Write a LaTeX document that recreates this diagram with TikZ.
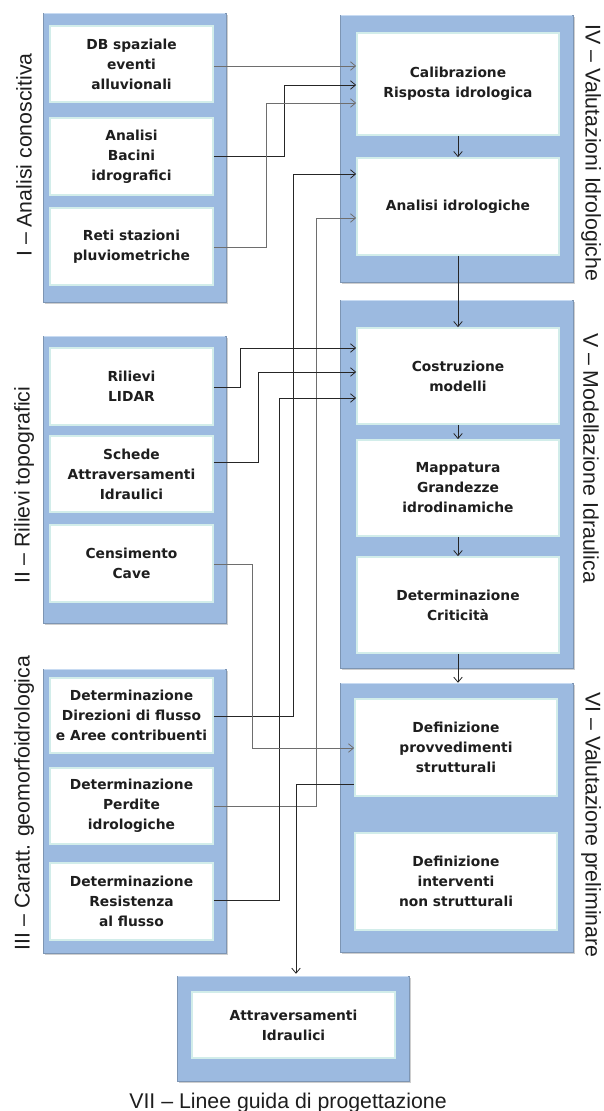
\documentclass[tikz,border=0pt]{standalone}
\usepackage{fontspec}
\setmainfont{Liberation Sans}
\newfontfamily\boxfont{DejaVu Sans}
\usetikzlibrary{arrows.meta,calc,shadows}
\definecolor{frameblue}{HTML}{9CBAE0}
\definecolor{framelight}{HTML}{C8DBF2}
\definecolor{innerrim}{HTML}{D2EDEA}
\definecolor{txt}{HTML}{1E1E1E}
\definecolor{lndark}{HTML}{262626}
\definecolor{lngray}{HTML}{6E6E6E}
\begin{document}
\begin{tikzpicture}[x=1pt,y=-1pt,
  frame/.style={draw=frameblue!80!black, line width=0.5pt, fill=frameblue, inner sep=0pt,
    drop shadow={shadow xshift=2pt, shadow yshift=-2pt, opacity=0.35, fill=black!55}},
  inbox/.style={draw=innerrim, line width=1.8pt, fill=white, inner sep=0pt, align=center,
    text=txt, font=\boxfont\bfseries\fontsize{13.8}{20}\selectfont},
  grouplabel/.style={text=txt, inner sep=0pt, font=\fontsize{21.3}{25}\selectfont},
  arr/.style={draw=lndark, line width=0.7pt, -{Straight Barb[length=5pt,width=8.5pt,line width=0.8pt]}},
  arrg/.style={arr, draw=lngray},
]
\useasboundingbox[fill=white] (0,0) rectangle (603,1111);

% group frames
\node[frame, minimum width=183pt, minimum height=289pt] (gI)   at (134.5,157.5) {};
\node[frame, minimum width=183pt, minimum height=287pt] (gII)  at (134.5,479.5) {};
\node[frame, minimum width=183pt, minimum height=284pt] (gIII) at (134.5,811) {};
\node[frame, minimum width=233pt, minimum height=267pt] (gIV)  at (456.5,148.5) {};
\node[frame, minimum width=233pt, minimum height=368pt] (gV)   at (456.5,484) {};
\node[frame, minimum width=233pt, minimum height=269pt] (gVI)  at (456.5,817.5) {};
\node[frame, minimum width=232pt, minimum height=105pt] (gVII) at (293,1028.5) {};
\foreach \g in {gI,gII,gIII,gIV,gV,gVI,gVII}{
  \draw[framelight, line width=1.4pt] ([xshift=1pt,yshift=-1pt]\g.north west) -- ([xshift=-1pt,yshift=-1pt]\g.north east);
}

% inner boxes: group I
\node[inbox, minimum width=163pt, minimum height=76pt] (db)   at (131.5,64)    {DB spaziale\\eventi\\alluvionali};
\node[inbox, minimum width=163pt, minimum height=77pt] (bac)  at (131.5,156.5) {Analisi\\Bacini\\idrografici};
\node[inbox, minimum width=163pt, minimum height=77pt] (reti) at (131.5,246.5) {Reti stazioni\\pluviometriche};
% group II
\node[inbox, minimum width=163pt, minimum height=77pt] (lidar)  at (131.5,386.5) {Rilievi\\LIDAR};
\node[inbox, minimum width=163pt, minimum height=76pt] (schede) at (131.5,474)   {Schede\\Attraversamenti\\Idraulici};
\node[inbox, minimum width=163pt, minimum height=77pt] (cave)   at (131.5,563.5) {Censimento\\Cave};
% group III
\node[inbox, minimum width=163pt, minimum height=75pt] (dir)  at (131.5,715.5) {Determinazione\\Direzioni di flusso\\e Aree contribuenti};
\node[inbox, minimum width=163pt, minimum height=76pt] (perd) at (131.5,806)   {Determinazione\\Perdite\\idrologiche};
\node[inbox, minimum width=163pt, minimum height=77pt] (res)  at (131.5,901.5) {Determinazione\\Resistenza\\al flusso};
% group IV
\node[inbox, minimum width=202pt, minimum height=102pt] (calib) at (458,84)    {Calibrazione\\Risposta idrologica};
\node[inbox, minimum width=202pt, minimum height=97pt]  (anid)  at (458,206.5) {Analisi idrologiche};
% group V
\node[inbox, minimum width=202pt, minimum height=96pt] (costr) at (458,376) {Costruzione\\modelli};
\node[inbox, minimum width=202pt, minimum height=96pt] (mapp)  at (458,488) {Mappatura\\Grandezze\\idrodinamiche};
\node[inbox, minimum width=202pt, minimum height=96pt] (crit)  at (458,605) {Determinazione\\Criticità};
% group VI
\node[inbox, minimum width=202pt, minimum height=97pt] (prov)   at (456,747.5) {Definizione\\provvedimenti\\strutturali};
\node[inbox, minimum width=202pt, minimum height=97pt] (nonstr) at (456,881.5) {Definizione\\interventi\\non strutturali};
% group VII
\node[inbox, minimum width=203pt, minimum height=66pt] (attr) at (293.5,1025) {Attraversamenti\\Idraulici};

% group labels
\node[grouplabel, rotate=90]  (lI)   at (24,155)  {I – Analisi conoscitiva};
\node[grouplabel, rotate=90]  (lII)  at (24,485)  {II – Rilievi topografici};
\node[grouplabel, rotate=90]  (lIII) at (24,803)  {III – Caratt. geomorfoidrologica};
\node[grouplabel, rotate=-90] (lIV)  at (591,153) {IV – Valutazioni Idrologiche};
\node[grouplabel, rotate=-90] (lV)   at (591,458) {V – Modellazione Idraulica};
\node[grouplabel, rotate=-90] (lVI)  at (591,825) {VI – Valutazione preliminare};
\node[grouplabel, anchor=base] (lVII) at (288,1108) {VII – Linee guida di progettazione};

% vertical flow arrows
\draw[arr] (calib.south) -- (anid.north);
\draw[arr] (anid.south) -- (costr.north);
\draw[arr] (costr.south) -- (mapp.north);
\draw[arr] (mapp.south) -- (crit.north);
\draw[arr] (crit.south) -- (crit.south |- gVI.north);

% connectors into Calibrazione
\draw[arrg] ($(db.east)+(0,2)$) -- ($(calib.west)+(0,-18)$);
\draw[arr]  (bac.east) -| ($(calib.west)+(-72,1)$) -- ($(calib.west)+(0,1)$);
\draw[arrg] ($(reti.east)+(0,0.5)$) -| ($(calib.west)+(-90,19)$) -- ($(calib.west)+(0,19)$);
% connectors into Analisi idrologiche
\draw[arr]  ($(dir.east)+(0,0.5)$) -| ($(anid.west)+(-63,-32.5)$) -- ($(anid.west)+(0,-32.5)$);
\draw[arrg] (perd.east) -| ($(anid.west)+(-40,11.5)$) -- ($(anid.west)+(0,11.5)$);
% connectors into Costruzione modelli
\draw[arr]  ($(lidar.east)+(0,0.5)$) -| ($(costr.west)+(-116,-28)$) -- ($(costr.west)+(0,-28)$);
\draw[arr]  ($(schede.east)+(0,-12)$) -| ($(costr.west)+(-98,-4)$) -- ($(costr.west)+(0,-4)$);
\draw[arr]  ($(res.east)+(0,-1.5)$) -| ($(costr.west)+(-77,22)$) -- ($(costr.west)+(0,22)$);
% Censimento Cave into Definizione provvedimenti
\draw[arrg] ($(cave.east)+(0,0.5)$) -| ($(prov.west)+(-102,0.5)$) -- ($(prov.west)+(0,0.5)$);
% Definizione provvedimenti to Attraversamenti
\draw[arr]  ($(prov.west)+(0,36.5)$) -| ($(gVII.north)+(3,-2)$);
\end{tikzpicture}
\end{document}
